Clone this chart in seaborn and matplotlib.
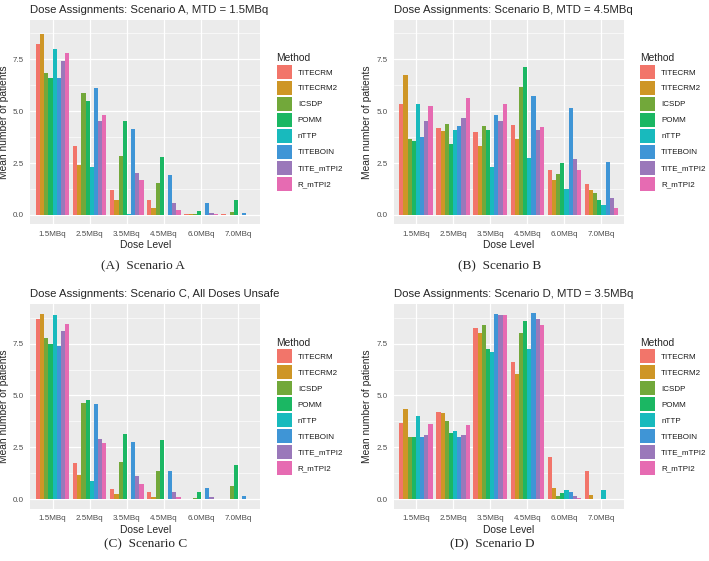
import matplotlib
matplotlib.use("Agg")
import matplotlib.pyplot as plt
import numpy as np
import pandas as pd
import seaborn as sns
from matplotlib.patches import Patch

# ---- data ----
doses = ["1.5MBq", "2.5MBq", "3.5MBq", "4.5MBq", "6.0MBq", "7.0MBq"]
methods = ["TITECRM", "TITECRM2", "ICSDP", "POMM", "nTTP", "TITEBOIN", "TITE_mTPI2", "R_mTPI2"]
colors = ["#F2756A", "#CE9626", "#72A83A", "#1BB763", "#18BABD", "#3F95D6", "#9A78BA", "#E66BB2"]

# rows = dose levels, columns = methods
scen_a = [
    [8.25, 8.69, 6.84, 6.57, 8.00, 6.57, 7.39, 7.82],
    [3.31, 2.42, 5.89, 5.51, 2.31, 6.13, 4.54, 4.79],
    [1.20, 0.72, 2.84, 4.54, 0.05, 4.13, 2.02, 1.67],
    [0.72, 0.34, 1.52, 2.79, 0.00, 1.90, 0.56, 0.24],
    [0.06, 0.06, 0.06, 0.19, 0.00, 0.58, 0.08, 0.03],
    [0.05, 0.00, 0.14, 0.71, 0.00, 0.10, 0.00, 0.00],
]
scen_b = [
    [5.33, 6.73, 3.68, 3.57, 5.36, 3.76, 4.51, 5.25],
    [4.19, 4.06, 4.38, 3.42, 4.11, 4.30, 4.69, 5.64],
    [4.01, 3.34, 4.27, 4.11, 2.31, 4.80, 4.50, 5.33],
    [4.35, 3.66, 6.18, 7.11, 2.73, 5.73, 4.11, 4.22],
    [2.15, 1.69, 1.96, 2.49, 1.25, 5.15, 2.70, 2.18],
    [1.51, 1.19, 1.04, 0.72, 0.47, 2.57, 0.80, 0.32],
]
scen_c = [
    [8.67, 8.90, 7.79, 7.47, 8.86, 7.40, 8.09, 8.46],
    [1.75, 1.16, 4.64, 4.79, 0.87, 4.61, 2.89, 2.71],
    [0.51, 0.26, 1.78, 3.15, 0.00, 2.75, 1.14, 0.75],
    [0.34, 0.11, 1.37, 2.86, 0.00, 1.37, 0.37, 0.11],
    [0.03, 0.02, 0.08, 0.35, 0.00, 0.56, 0.10, 0.01],
    [0.03, 0.00, 0.66, 1.65, 0.00, 0.18, 0.01, 0.00],
]
scen_d = [
    [3.66, 4.34, 3.02, 3.02, 4.01, 3.02, 3.12, 3.61],
    [4.22, 4.14, 3.79, 3.21, 3.28, 3.02, 3.08, 3.57],
    [8.27, 8.00, 8.40, 7.23, 7.10, 8.93, 8.86, 8.86],
    [6.63, 6.04, 8.00, 8.59, 7.26, 8.96, 8.67, 8.38],
    [2.04, 0.55, 0.14, 0.29, 0.45, 0.35, 0.14, 0.05],
    [1.35, 0.22, 0.00, 0.00, 0.45, 0.03, 0.00, 0.00],
]

titles = [
    "Dose Assignments: Scenario A, MTD = 1.5MBq",
    "Dose Assignments: Scenario B, MTD = 4.5MBq",
    "Dose Assignments: Scenario C, All Doses Unsafe",
    "Dose Assignments: Scenario D, MTD = 3.5MBq",
]
captions = ["(A)  Scenario A", "(B)  Scenario B", "(C)  Scenario C", "(D)  Scenario D"]


def to_long(values):
    rows = []
    for dose, vals in zip(doses, values):
        for m, v in zip(methods, vals):
            rows.append({"dose": dose, "method": m, "value": v})
    return pd.DataFrame(rows)


def gg_panel(fig, rect, values, title, caption, cap_xy):
    ax = fig.add_axes(rect)
    df = to_long(values)
    sns.barplot(data=df, x="dose", y="value", hue="method", order=doses,
                hue_order=methods, palette=colors, width=0.9, saturation=1,
                errorbar=None, linewidth=0, legend=False, ax=ax)
    ax.set_facecolor("#EBEBEB")
    for s in ax.spines.values():
        s.set_visible(False)
    ax.set_xlim(-0.6, 5.6)
    ax.set_ylim(-0.45, 9.41)
    ax.set_yticks([0, 2.5, 5.0, 7.5])
    ax.set_yticklabels(["0.0", "2.5", "5.0", "7.5"])
    ax.set_yticks([1.25, 3.75, 6.25, 8.75], minor=True)
    ax.set_axisbelow(True)
    ax.grid(which="major", color="white", lw=0.9)
    ax.grid(which="minor", axis="y", color="white", lw=0.45)
    ax.tick_params(which="major", length=2.5, width=0.6, color="#333333",
                   labelsize=5.8, labelcolor="#4D4D4D", pad=2)
    ax.tick_params(which="minor", length=0)
    ax.set_xlabel("Dose Level", fontsize=7.4, labelpad=2)
    ax.set_ylabel("Mean number of patients", fontsize=7.4, labelpad=3)
    ax.set_title(title, fontsize=8.2, loc="left", pad=5)

    handles = [Patch(facecolor=c, edgecolor="none") for c in colors]
    leg = ax.legend(handles, methods, title="Method", loc="center left",
                    bbox_to_anchor=(1.07, 0.5), frameon=False, fontsize=5.8,
                    title_fontsize=7.4, handlelength=1.9, handleheight=2.3,
                    labelspacing=0.24, handletextpad=0.75, borderaxespad=0,
                    borderpad=0, alignment="left")
    for t in leg.get_texts():
        t.set_color("#1A1A1A")
    fig.text(cap_xy[0], cap_xy[1], caption, family=["Liberation Serif", "DejaVu Serif"],
             fontsize=9.5, ha="center", va="center")
    return ax


def main():
    sns.set_theme(style="white")
    plt.rcParams["font.family"] = ["Liberation Sans", "DejaVu Sans"]
    W, H = 709, 561
    fig = plt.figure(figsize=(W / 100, H / 100), dpi=100)

    pw, ph = 230, 204.8
    panels = [
        (30.4, 224.3, scen_a, (143, 266)),
        (393.7, 224.3, scen_b, (500, 266)),
        (30.4, 508.7, scen_c, (146, 544)),
        (393.7, 508.7, scen_d, (492, 544)),
    ]
    for (left, bottom, vals, cap), title, caption in zip(panels, titles, captions):
        rect = [left / W, 1 - bottom / H, pw / W, ph / H]
        gg_panel(fig, rect, vals, title, caption, (cap[0] / W, 1 - cap[1] / H))

    fig.savefig("out.png", dpi=100, facecolor="white")


if __name__ == "__main__":
    main()
